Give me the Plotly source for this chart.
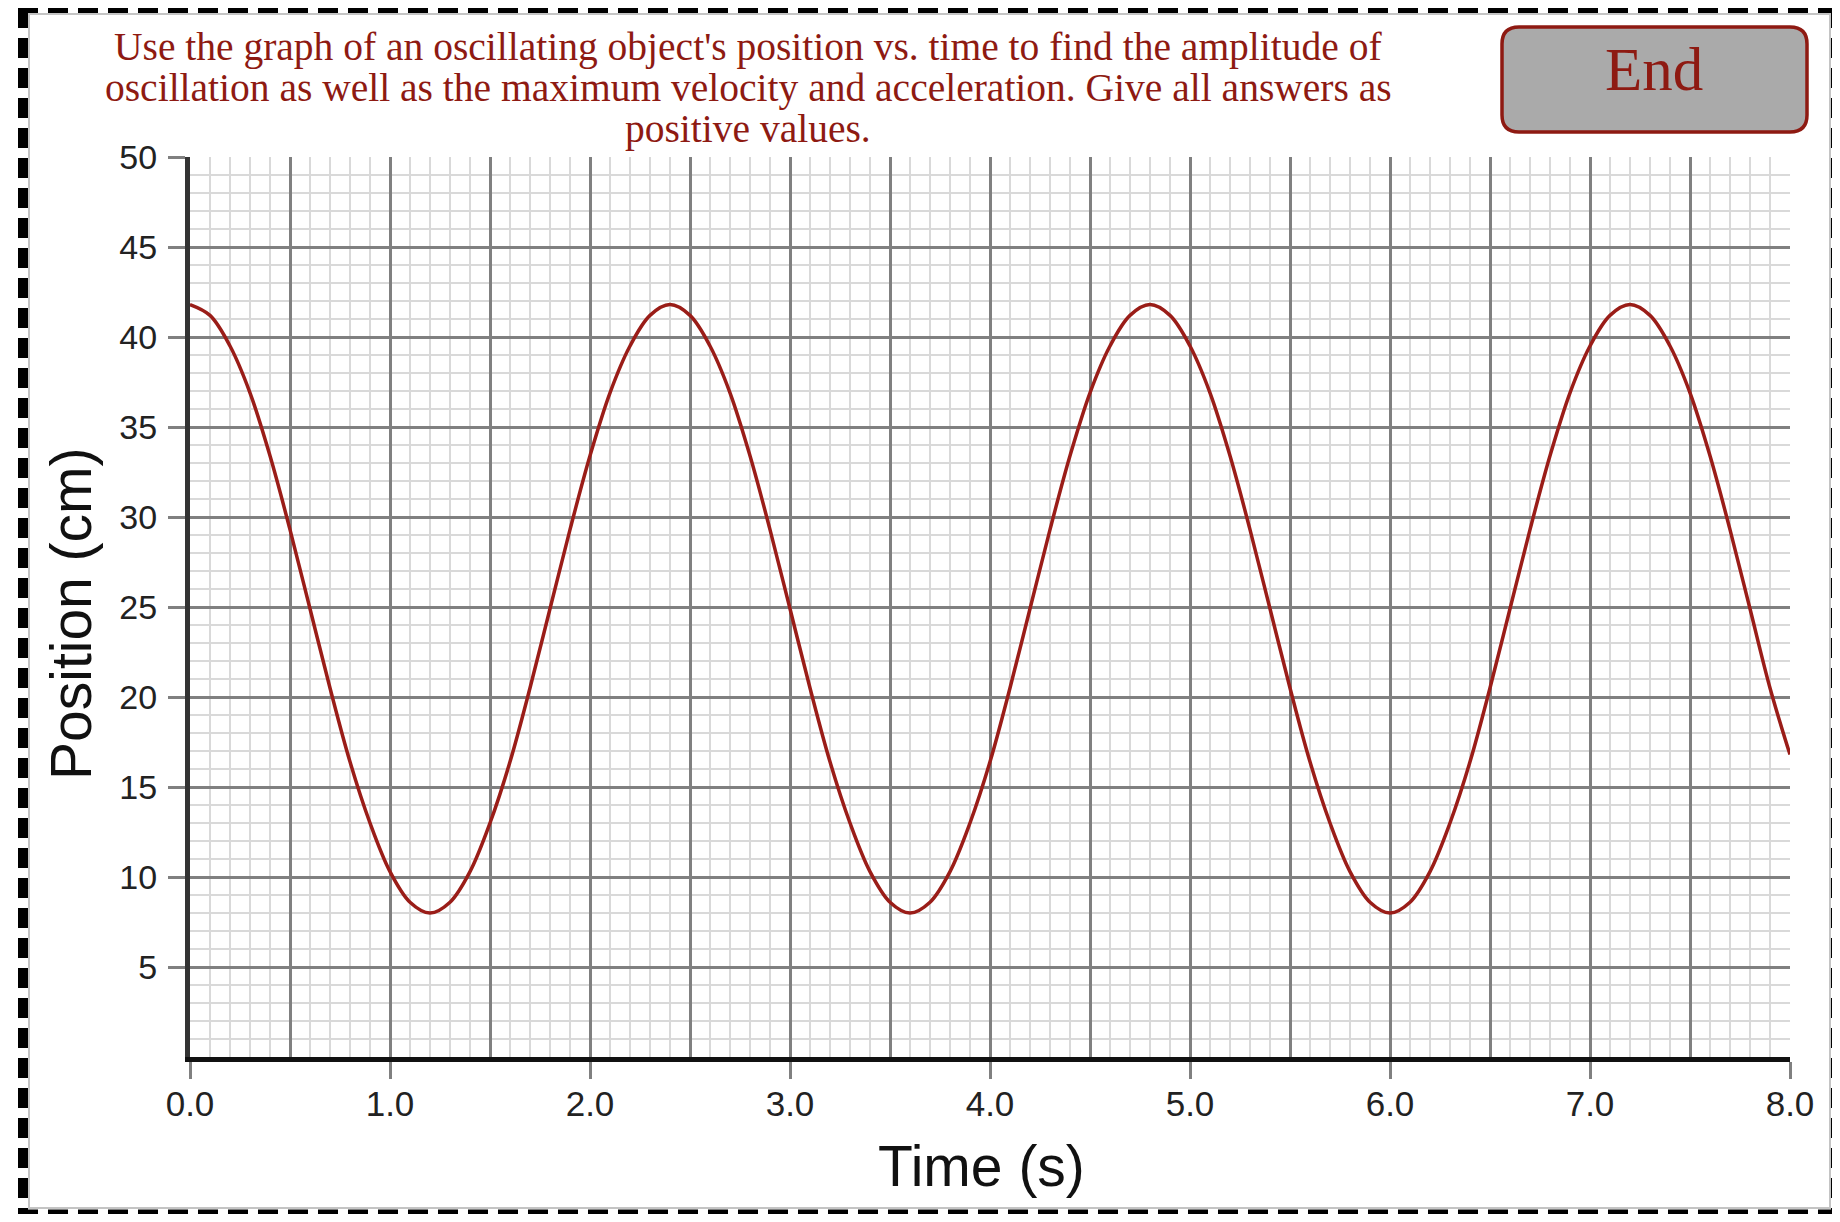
import plotly.graph_objects as go

# --- data ---
time_s = [round(0.1 * i, 1) for i in range(81)]
position_cm = [
    41.8, 41.2, 39.5, 36.9, 33.4, 29.3, 24.9, 20.5, 16.4, 13.0, 10.3, 8.6,
    8.0, 8.6, 10.3, 13.0, 16.4, 20.5, 24.9, 29.3, 33.4, 36.9, 39.5, 41.2,
    41.8, 41.2, 39.5, 36.9, 33.4, 29.3, 24.9, 20.5, 16.4, 13.0, 10.3, 8.6,
    8.0, 8.6, 10.3, 13.0, 16.4, 20.5, 24.9, 29.3, 33.4, 36.9, 39.5, 41.2,
    41.8, 41.2, 39.5, 36.9, 33.4, 29.3, 24.9, 20.5, 16.4, 13.0, 10.3, 8.6,
    8.0, 8.6, 10.3, 13.0, 16.4, 20.5, 24.9, 29.3, 33.4, 36.9, 39.5, 41.2,
    41.8, 41.2, 39.5, 36.9, 33.4, 29.3, 24.9, 20.5, 16.8,
]

x_tick_vals = [0, 1, 2, 3, 4, 5, 6, 7, 8]
x_tick_text = ["0.0", "1.0", "2.0", "3.0", "4.0", "5.0", "6.0", "7.0", "8.0"]
x_half_vals = [0.5, 1.5, 2.5, 3.5, 4.5, 5.5, 6.5, 7.5]
y_tick_vals = [5, 10, 15, 20, 25, 30, 35, 40, 45, 50]
y_tick_text = ["5", "10", "15", "20", "25", "30", "35", "40", "45", "50"]

question_lines = [
    "Use the graph of an oscillating object's position vs. time to find the amplitude of",
    "oscillation as well as the maximum velocity and acceleration. Give all answers as",
    "positive values.",
]
button_label = "End"

# --- page geometry (pixels); the page body adds an 8px margin ---
OFF = 8
W, H = 1840 - OFF, 1222 - 2 * OFF
L, T = 190 - OFF, 157 - OFF
PW, PH = 1600, 900
R, B = W - L - PW, H - T - PH

RED = "#8e1a12"
GRID = "#808080"
MINOR = "#d9d9d9"
SANS = "Liberation Sans, Arial, sans-serif"
SERIF = "Liberation Serif, Georgia, serif"


def px(x):
    # page x -> paper x
    return (x - OFF - L) / PW


def py(y):
    # page y -> paper y
    return (H - B - (y - OFF)) / PH


def rounded_rect(x0, y0, x1, y1, r):
    return (
        f"M {px(x0 + r)} {py(y0)} L {px(x1 - r)} {py(y0)} Q {px(x1)} {py(y0)} {px(x1)} {py(y0 + r)} "
        f"L {px(x1)} {py(y1 - r)} Q {px(x1)} {py(y1)} {px(x1 - r)} {py(y1)} "
        f"L {px(x0 + r)} {py(y1)} Q {px(x0)} {py(y1)} {px(x0)} {py(y1 - r)} "
        f"L {px(x0)} {py(y0 + r)} Q {px(x0)} {py(y0)} {px(x0 + r)} {py(y0)} Z"
    )


fig = go.Figure()

fig.add_trace(
    go.Scatter(
        x=time_s,
        y=position_cm,
        mode="lines",
        line=dict(color="#9a1d18", width=3.5, shape="spline", smoothing=1.0),
        showlegend=False,
        hoverinfo="skip",
    )
)
# same series on the overlay axis (transparent) so the half-second grid axis gets drawn
fig.add_trace(
    go.Scatter(
        x=time_s,
        y=position_cm,
        xaxis="x2",
        mode="lines",
        opacity=0,
        showlegend=False,
        hoverinfo="skip",
    )
)

shapes = [
    # outer frame
    dict(type="rect", xref="paper", yref="paper", x0=px(29), x1=px(1830), y0=py(14), y1=py(1208),
         line=dict(color="#c4c4c4", width=2), layer="below"),
    dict(type="line", xref="paper", yref="paper", x0=px(23), x1=px(23), y0=py(8), y1=py(1222),
         line=dict(color="black", width=10, dash="20px,10px")),
    dict(type="line", xref="paper", yref="paper", x0=px(18), x1=px(1840), y0=py(10.5), y1=py(10.5),
         line=dict(color="black", width=5, dash="20px,10px")),
    dict(type="line", xref="paper", yref="paper", x0=px(1835), x1=px(1835), y0=py(8), y1=py(1222),
         line=dict(color="black", width=8, dash="20px,10px")),
    dict(type="line", xref="paper", yref="paper", x0=px(18), x1=px(1840), y0=py(1212), y1=py(1212),
         line=dict(color="black", width=5, dash="20px,10px")),
    # End button
    dict(type="path", xref="paper", yref="paper", path=rounded_rect(1502, 27, 1807, 132, 17),
         fillcolor="#aaaaaa", line=dict(color=RED, width=3.5)),
]

annotations = [
    dict(text=line, xref="paper", yref="paper", x=px(748), y=py(47 + 41 * i), xanchor="center",
         yanchor="middle", showarrow=False, font=dict(family=SERIF, size=39.5, color=RED))
    for i, line in enumerate(question_lines)
]
annotations += [
    dict(text=button_label, xref="paper", yref="paper", x=px(1654), y=py(69), xanchor="center",
         yanchor="middle", showarrow=False, font=dict(family=SERIF, size=61, color=RED)),
    dict(text="Time (s)", xref="paper", yref="paper", x=px(981), y=py(1166), xanchor="center",
         yanchor="middle", showarrow=False, font=dict(family=SANS, size=57, color="#111")),
    dict(text="Position (cm)", xref="paper", yref="paper", x=px(71), y=py(614), xanchor="center",
         yanchor="middle", textangle=-90, showarrow=False, font=dict(family=SANS, size=57, color="#111")),
]

fig.update_layout(
    width=W,
    height=H,
    autosize=False,
    margin=dict(l=L, r=R, t=T, b=B),
    paper_bgcolor="white",
    plot_bgcolor="white",
    showlegend=False,
    shapes=shapes,
    annotations=annotations,
    xaxis=dict(
        range=[0, 8],
        tickmode="array",
        tickvals=x_tick_vals,
        ticktext=x_tick_text,
        ticks="outside",
        ticklen=17,
        tickwidth=3,
        tickcolor=GRID,
        tickfont=dict(family=SANS, size=35, color="#222"),
        ticklabelstandoff=-5,
        showgrid=True,
        gridcolor=GRID,
        gridwidth=2.5,
        minor=dict(tickmode="linear", tick0=0, dtick=0.1, showgrid=True, gridcolor=MINOR, gridwidth=2),
        showline=True,
        linecolor="#111",
        linewidth=5,
        zeroline=False,
        fixedrange=True,
    ),
    xaxis2=dict(
        overlaying="x",
        anchor="y",
        range=[0, 8],
        tickmode="array",
        tickvals=x_half_vals,
        showticklabels=False,
        ticks="",
        showgrid=True,
        gridcolor=GRID,
        gridwidth=2.5,
        showline=False,
        zeroline=False,
        fixedrange=True,
    ),
    yaxis=dict(
        range=[0, 50],
        tickmode="array",
        tickvals=y_tick_vals,
        ticktext=y_tick_text,
        ticks="outside",
        ticklen=17,
        tickwidth=3,
        tickcolor=GRID,
        tickfont=dict(family=SANS, size=34, color="#222"),
        ticklabelstandoff=4,
        showgrid=True,
        gridcolor=GRID,
        gridwidth=2.5,
        minor=dict(tickmode="linear", tick0=0, dtick=1, showgrid=True, gridcolor=MINOR, gridwidth=2),
        showline=True,
        linecolor="#333",
        linewidth=5,
        zeroline=False,
        fixedrange=True,
    ),
)

fig.write_html("out.html")
